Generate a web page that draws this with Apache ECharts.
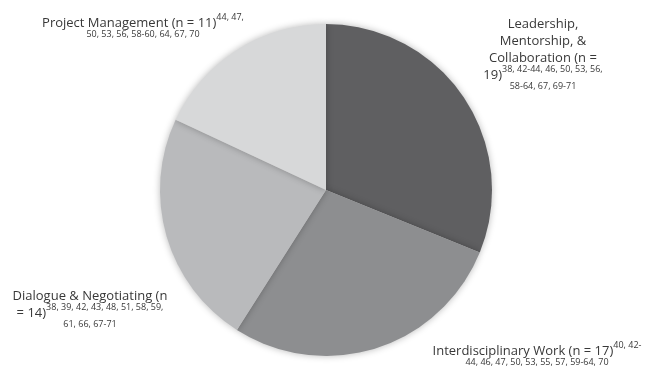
<!DOCTYPE html>
<html><head><meta charset="utf-8">
<script src="https://cdn.jsdelivr.net/npm/echarts@6/dist/echarts.min.js"></script>
<style>html,body{margin:0;padding:0;background:#fff}#c{width:650px;height:372px}</style>
</head><body><div id="c"></div>
<script>
var categories = ["Leadership, Mentorship, & Collaboration", "Interdisciplinary Work", "Dialogue & Negotiating", "Project Management"];
var counts = [19, 17, 14, 11];
var refs = [
  "38, 42-44, 46, 50, 53, 56, 58-64, 67, 69-71",
  "40, 42-44, 46, 47, 50, 53, 55, 57, 59-64, 70",
  "38, 39, 42, 43, 48, 51, 58, 59, 61, 66, 67-71",
  "44, 47, 50, 53, 56, 58-60, 64, 67, 70"
];
var colors = ["#5f5f61", "#8d8e90", "#b9babc", "#d7d8d9"];
// label text broken into lines as in the picture: [main, sup] pairs per line
var labelLines = [
  [["Leadership,", ""], ["Mentorship, &", ""], ["Collaboration (n =", ""], ["19)", "38, 42-44, 46, 50, 53, 56,"], ["", "58-64, 67, 69-71"]],
  [["Interdisciplinary Work (n = 17)", "40, 42-"], ["", "44, 46, 47, 50, 53, 55, 57, 59-64, 70"]],
  [["Dialogue & Negotiating (n", ""], ["= 14)", "38, 39, 42, 43, 48, 51, 58, 59,"], ["", "61, 66, 67-71"]],
  [["Project Management (n = 11)", "44, 47,"], ["", "50, 53, 56, 58-60, 64, 67, 70"]]
];
var labelPos = [[543, 14], [537, 341], [90, 286], [143, 13]];

function fmt(p) {
  return labelLines[p.dataIndex].map(function (l) {
    var s = "";
    if (l[0]) s += "{m|" + l[0] + "}";
    if (l[1]) s += "{s|" + l[1] + "}";
    return s;
  }).join("\n");
}

var chart = echarts.init(document.getElementById("c"));
chart.setOption({
  animation: false,
  series: [{
    type: "pie",
    center: [326, 190],
    radius: [0, 166],
    startAngle: 90,
    clockwise: true,
    data: categories.map(function (n, i) {
      return { name: n, value: counts[i], itemStyle: { color: colors[i] } };
    }),
    itemStyle: { shadowBlur: 7, shadowColor: "rgba(0,0,0,0.28)", borderWidth: 0 },
    label: {
      show: true,
      position: "outside",
      formatter: fmt,
      overflow: "none",
      width: 400,
      color: "#383838",
      fontFamily: "Open Sans",
      align: "center",
      rich: {
        m: { fontSize: 13, fontFamily: "Open Sans", color: "#383838", lineHeight: 17, verticalAlign: "bottom" },
        s: { fontSize: 9, fontFamily: "Open Sans", color: "#383838", lineHeight: 16, verticalAlign: "top" }
      }
    },
    labelLine: { show: false },
    labelLayout: function (p) {
      var pos = labelPos[p.dataIndex];
      return { x: pos[0], y: pos[1], align: "center", verticalAlign: "top" };
    },
    emphasis: { disabled: true }
  }]
});
</script></body></html>
